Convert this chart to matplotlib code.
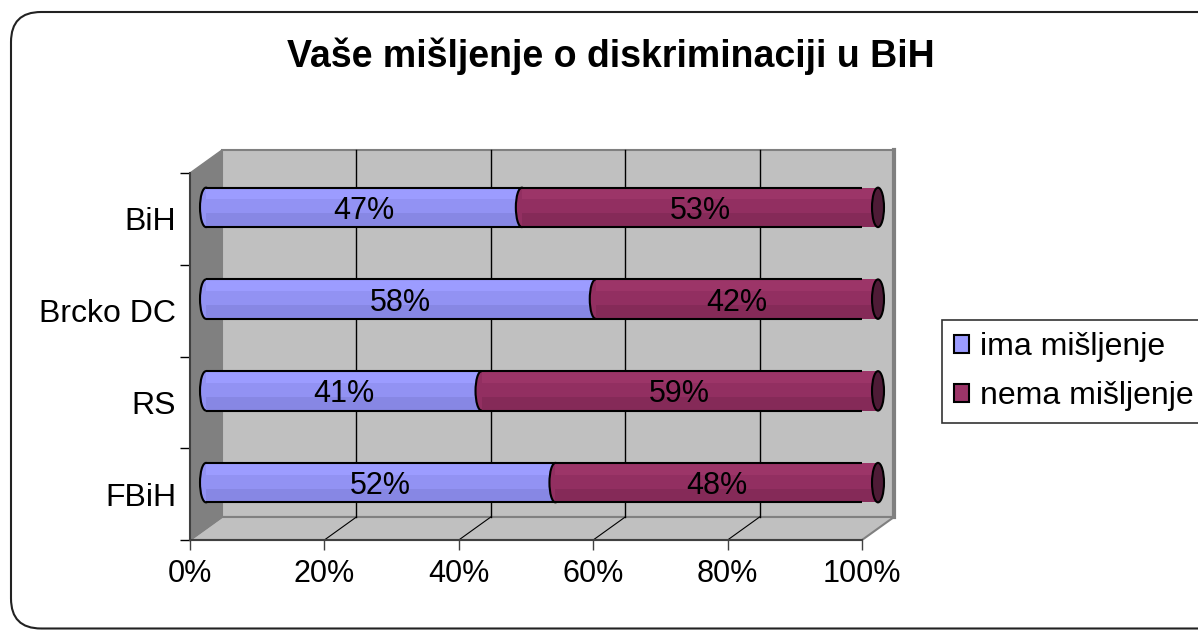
import numpy as np
import matplotlib
matplotlib.use('Agg')
import matplotlib.pyplot as plt
from matplotlib.patches import Polygon, Ellipse, Rectangle, FancyBboxPatch, Patch

# data (percent per region)
categories = ['FBiH', 'RS', 'Brcko DC', 'BiH']
ima = [52, 41, 58, 47]
nema = [48, 59, 42, 53]
series_names = ['ima mišljenje', 'nema mišljenje']
xticks = [0, 20, 40, 60, 80, 100]
title = 'Vaše mišljenje o diskriminaciji u BiH'

plt.rcParams['font.family'] = ['Liberation Sans', 'DejaVu Sans']

# colours: (top band, middle band, bottom band)
blue = ['#9c9cff', '#9292f3', '#8787e4']
maroon = ['#9c3568', '#922f61', '#852a58']
cap_colour = '#4e1b36'
wall = '#c0c0c0'
side = '#808080'

fig = plt.figure(figsize=(11.98, 6.3), dpi=100)
ax = fig.add_axes([190 / 1198, 90 / 630, 672 / 1198, 367 / 630])
n = len(categories)
ax.set_xlim(0, 100)
ax.set_ylim(-0.5, n - 0.5)
ax.patch.set_visible(False)

# 3d depth of the plot box in data units
dx = 32 / 6.72
dy = 23 / 91.75

# back wall, floor, left wall
ax.add_patch(Rectangle((dx, -0.5 + dy), 100, n, fc=wall, ec=side, lw=1.5, clip_on=False, zorder=0))
ax.add_patch(Polygon([(0, -0.5), (100, -0.5), (100 + dx, -0.5 + dy), (dx, -0.5 + dy)],
                     closed=True, fc=wall, ec=side, lw=1.5, clip_on=False, zorder=0.5))
ax.add_patch(Polygon([(0, -0.5), (dx, -0.5 + dy), (dx, n - 0.5 + dy), (0, n - 0.5)],
                     closed=True, fc=side, ec=side, lw=1, clip_on=False, zorder=0.5))
ax.plot([100 + dx, 100 + dx], [-0.5 + dy, n - 0.5 + dy], color=side, lw=3, clip_on=False, zorder=0.6)

# gridlines on back wall and floor
for t in xticks[1:-1]:
    ax.plot([t + dx, t + dx], [-0.5 + dy, n - 0.5 + dy], color='black', lw=1, clip_on=False, zorder=1)
    ax.plot([t, t + dx], [-0.5, -0.5 + dy], color='black', lw=0.8, clip_on=False, zorder=1)

# bars sit at half depth
h = 0.43
bx = dx / 2
by = dy / 2
cw = 12 / 6.72
bands = [(0.2, 0.3), (-0.15, 0.35), (-0.5, 0.35)]

for i in range(n):
    y = i + by
    starts = [0, ima[i]]
    widths = [ima[i], nema[i]]
    for j, cols in enumerate([blue, maroon]):
        left = starts[j] + bx
        ax.add_patch(Ellipse((left, y), cw, h, fc=cols[1], ec='black', lw=1.5,
                             clip_on=False, zorder=3 + 2 * j))
        for (b0, bh), c in zip(bands, cols):
            ax.barh(y + b0 * h, widths[j], height=bh * h, left=left, align='edge',
                    color=c, lw=0, zorder=4 + 2 * j, clip_on=False)
        ax.text(left + widths[j] / 2, y, f'{widths[j]}%', ha='center', va='center_baseline',
                fontsize=22, zorder=9)
    ax.add_patch(Ellipse((100 + bx, y), cw, h, fc=cap_colour, ec='black', lw=1.5,
                         clip_on=False, zorder=7))
    ax.hlines([y + h / 2, y - h / 2], bx, 100 + bx, color='black', lw=1.5, zorder=8)

# axes, ticks and labels
ax.spines['top'].set_visible(False)
ax.spines['right'].set_visible(False)
for s in ['left', 'bottom']:
    ax.spines[s].set_color('#404040')
    ax.spines[s].set_linewidth(1.5)
    ax.spines[s].set_zorder(2)

ax.set_xticks(xticks)
ax.set_xticklabels([f'{t}%' for t in xticks])
ax.tick_params(axis='x', length=7, width=1, color='#404040', labelsize=22, pad=7)
ax.set_yticks(np.arange(n))
ax.set_yticklabels(categories)
ax.set_yticks(np.arange(n + 1) - 0.5, minor=True)
ax.tick_params(axis='y', which='major', length=0, labelsize=23, pad=10)
ax.tick_params(axis='y', which='minor', length=7, width=1, color='black')

fig.text(611 / 1198, 1 - 67 / 630, title, ha='center', va='baseline',
         fontsize=27, fontweight='bold')

handles = [Patch(fc=blue[0], ec='black', lw=1.5), Patch(fc=maroon[0], ec='black', lw=1.5)]
leg = fig.legend(handles, series_names, loc='upper left',
                 bbox_to_anchor=(942 / 1198, 1 - 320 / 630), borderaxespad=0,
                 fontsize=23, frameon=True, fancybox=False, edgecolor='black',
                 handlelength=0.47, handleheight=0.47, handletextpad=0.34,
                 labelspacing=0.6, borderpad=0.38)
leg.get_frame().set_linewidth(1.2)

# rounded chart border, running off the right edge
border = FancyBboxPatch((0.11, 0.015), 12.5, 6.18 - 0.015,
                        boxstyle='round,pad=0,rounding_size=0.3',
                        transform=fig.dpi_scale_trans, fc='none', ec='#222222', lw=1.5)
fig.add_artist(border)

fig.savefig('out.png', dpi=100)
